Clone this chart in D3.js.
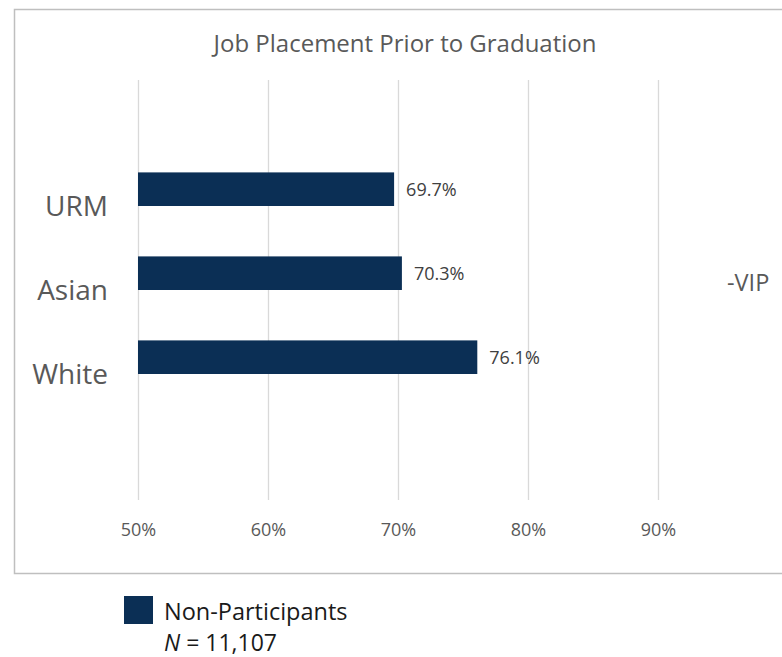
<!DOCTYPE html>
<html>
<head>
<meta charset="utf-8">
<script src="https://cdn.jsdelivr.net/npm/d3@7"></script>
<style>
  body { margin: 0; background: #fff; }
  text { font-family: "Open Sans", "Noto Sans", sans-serif; }
</style>
</head>
<body>
<div id="chart"></div>
<script>
// Categories (blank slots at the ends, as in the source chart)
const categories = ['', 'URM', 'Asian', 'White', ' '];
const groups = ['URM', 'Asian', 'White'];
const nonParticipants = [0.697, 0.703, 0.761];
const tickValues = [0.5, 0.6, 0.7, 0.8, 0.9];
const seriesNames = ['Non-Participants', 'VIP'];

const width = 782, height = 657;
const barColor = '#0b2f55';

let svg = d3.select('#chart').append('svg')
  .attr('width', width)
  .attr('height', height);

// Chart frame
svg.append('rect')
  .attr('x', 14.5).attr('y', 9.5)
  .attr('width', 800).attr('height', 564)
  .attr('fill', 'none')
  .attr('stroke', '#bfbfbf')
  .attr('stroke-width', 1.5);

svg.append('text')
  .attr('x', 405).attr('y', 52)
  .attr('text-anchor', 'middle')
  .attr('font-size', 24)
  .attr('fill', '#595959')
  .text('Job Placement Prior to Graduation');

let xScale = d3.scaleLinear().domain([0.5, 1.0]).range([138, 788]);

let yScale = d3.scaleBand()
  .domain(categories)
  .range([80, 500]);

// inner band for the two series, bars sit in the upper half
let seriesScale = d3.scaleBand()
  .domain(seriesNames)
  .range([0, yScale.bandwidth()])
  .paddingOuter(0.25);

// Gridlines + tick labels
let xAxis = d3.axisBottom(xScale)
  .tickValues(tickValues)
  .tickSize(-(500 - 80))
  .tickFormat(d3.format('.0%'));

let gx = svg.append('g')
  .attr('transform', 'translate(0,500)')
  .call(xAxis);
gx.select('.domain').remove();
gx.selectAll('.tick line').attr('stroke', '#d9d9d9').attr('stroke-width', 1.3);
gx.selectAll('.tick text')
  .attr('y', 30)
  .attr('dy', '0.35em')
  .attr('font-size', 18)
  .attr('fill', '#595959');

// Bars
let rows = groups.map((g, i) => ({ name: g, value: nonParticipants[i] }));

svg.append('g')
  .selectAll('rect')
  .data(rows)
  .enter().append('rect')
    .attr('x', xScale(0.5))
    .attr('y', d => yScale(d.name) + seriesScale('Non-Participants'))
    .attr('width', d => xScale(d.value) - xScale(0.5))
    .attr('height', seriesScale.bandwidth())
    .attr('fill', barColor);

// Data labels
svg.append('g')
  .selectAll('text')
  .data(rows)
  .enter().append('text')
    .attr('x', d => xScale(d.value) + 12)
    .attr('y', d => yScale(d.name) + seriesScale('Non-Participants') + seriesScale.bandwidth() / 2)
    .attr('dy', '0.35em')
    .attr('font-size', 18)
    .attr('fill', '#404040')
    .text(d => d3.format('.1%')(d.value));

// Category labels
svg.append('g')
  .selectAll('text')
  .data(groups)
  .enter().append('text')
    .attr('x', 108)
    .attr('y', d => yScale(d) + yScale.bandwidth() / 2)
    .attr('dy', '0.35em')
    .attr('text-anchor', 'end')
    .attr('font-size', 28)
    .attr('fill', '#595959')
    .text(d => d);

// stray series label from the source
svg.append('text')
  .attr('x', 727).attr('y', 283)
  .attr('dy', '0.35em')
  .attr('font-size', 23.5)
  .attr('fill', '#595959')
  .text('-' + seriesNames[1]);

// Legend
let legend = svg.append('g');
legend.append('rect')
  .attr('x', 124).attr('y', 596)
  .attr('width', 29).attr('height', 28)
  .attr('fill', barColor);
legend.append('text')
  .attr('x', 164).attr('y', 620)
  .attr('font-size', 23.5)
  .attr('fill', '#1a1a1a')
  .text(seriesNames[0]);
let nText = legend.append('text')
  .attr('x', 164).attr('y', 651)
  .attr('font-size', 23)
  .attr('fill', '#1a1a1a');
nText.append('tspan').attr('font-style', 'italic').text('N');
nText.append('tspan').text(' = 11,107');
</script>
</body>
</html>
